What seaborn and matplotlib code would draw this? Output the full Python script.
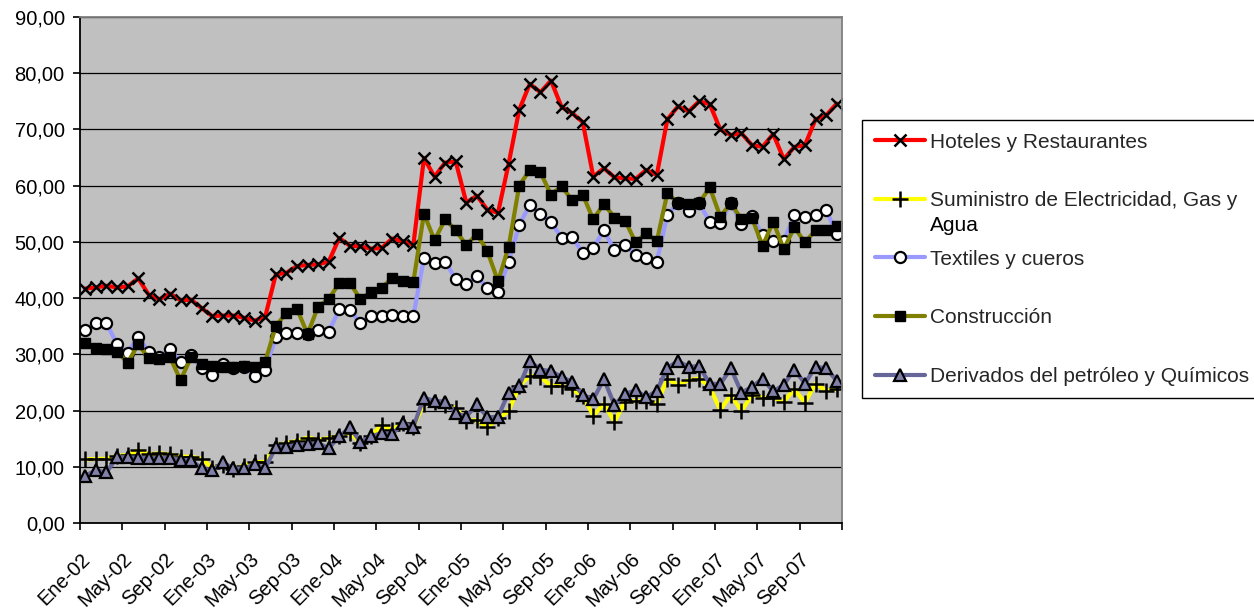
import numpy as np
import pandas as pd
import matplotlib
matplotlib.use("Agg")
import matplotlib.pyplot as plt
from matplotlib.transforms import IdentityTransform
import seaborn as sns

# Monthly categories Ene-02 ... Dic-07
meses = ["Ene", "Feb", "Mar", "Abr", "May", "Jun", "Jul", "Ago", "Sep", "Oct", "Nov", "Dic"]
anios = ["02", "03", "04", "05", "06", "07"]
categorias = [f"{m}-{a}" for a in anios for m in meses]

hoteles = [41.7, 41.9, 42.2, 41.9, 42.1, 43.5, 40.6, 39.8, 40.8, 39.6, 39.7, 38.2,
           36.8, 36.9, 36.9, 36.5, 36.0, 36.7, 44.2, 44.5, 45.7, 45.9, 46.0, 46.5,
           50.7, 49.3, 49.2, 48.8, 48.9, 50.6, 50.1, 49.5, 64.9, 61.6, 64.1, 64.3,
           57.0, 58.2, 55.7, 55.2, 63.9, 73.5, 78.1, 76.6, 78.7, 74.0, 72.9, 71.3,
           61.6, 63.1, 61.5, 61.3, 61.2, 62.8, 61.9, 71.8, 74.1, 73.2, 75.0, 74.5,
           70.0, 69.0, 69.3, 67.2, 66.9, 69.2, 64.7, 66.9, 67.2, 71.8, 72.5, 74.6]

suministro = [11.3, 11.4, 11.4, 11.9, 12.1, 12.9, 12.2, 12.4, 12.2, 11.8, 11.8, 11.4,
              9.8, 10.3, 9.6, 10.2, 10.8, 10.9, 13.8, 14.2, 14.6, 15.2, 14.8, 15.1,
              15.5, 16.0, 14.3, 15.5, 17.4, 16.6, 17.7, 17.1, 21.2, 21.6, 21.0, 20.5,
              18.2, 18.3, 17.0, 18.6, 19.9, 24.4, 26.2, 26.0, 24.4, 24.4, 23.8, 22.6,
              19.1, 21.2, 18.0, 21.6, 21.7, 21.7, 21.2, 25.6, 24.6, 25.4, 25.7, 24.2,
              20.1, 22.8, 19.9, 22.8, 22.3, 22.3, 21.6, 23.8, 21.4, 24.8, 23.5, 23.8]

textiles = [34.4, 35.5, 35.5, 31.8, 30.3, 33.1, 30.4, 29.5, 30.9, 28.6, 29.8, 27.5,
            26.4, 28.3, 27.6, 27.8, 26.2, 27.3, 33.0, 33.8, 33.8, 33.6, 34.4, 34.0,
            38.0, 37.9, 35.5, 36.9, 36.9, 37.0, 36.8, 36.8, 47.2, 46.3, 46.5, 43.4,
            42.5, 43.9, 41.8, 41.0, 46.5, 53.0, 56.6, 55.0, 53.6, 50.7, 50.8, 48.1,
            48.9, 52.1, 48.5, 49.5, 47.7, 47.1, 46.5, 54.8, 56.9, 55.5, 56.9, 53.6,
            53.4, 56.9, 53.2, 54.6, 51.2, 50.1, 50.1, 54.8, 54.5, 54.8, 55.7, 51.4]

construccion = [32.1, 31.1, 31.0, 30.5, 28.5, 31.8, 29.3, 29.1, 29.5, 25.4, 29.5, 28.3,
                27.9, 27.8, 27.8, 28.0, 27.7, 28.7, 35.0, 37.4, 38.1, 33.6, 38.5, 39.8,
                42.7, 42.7, 39.8, 41.1, 41.8, 43.6, 43.1, 42.9, 55.0, 50.3, 54.0, 52.1,
                49.4, 51.4, 48.3, 43.0, 49.1, 60.0, 62.8, 62.4, 58.4, 59.9, 57.4, 58.4,
                54.0, 56.8, 54.3, 53.8, 49.9, 51.6, 50.1, 58.7, 56.9, 56.8, 56.9, 59.7,
                54.5, 56.9, 54.0, 54.2, 49.3, 53.6, 48.7, 52.6, 49.9, 52.1, 52.2, 52.8]

derivados = [8.4, 9.4, 9.0, 11.7, 11.7, 11.6, 11.5, 11.6, 11.6, 11.2, 11.2, 9.7,
             9.4, 10.8, 9.7, 9.7, 10.5, 9.7, 13.5, 13.6, 13.9, 14.0, 14.2, 13.3,
             15.4, 17.0, 14.4, 15.4, 16.0, 15.8, 17.7, 17.1, 22.3, 21.7, 21.6, 19.6,
             18.9, 21.1, 18.8, 18.9, 23.2, 24.4, 28.8, 27.3, 27.0, 26.0, 25.1, 22.8,
             22.0, 25.6, 21.0, 23.0, 23.6, 22.4, 23.5, 27.6, 28.8, 27.8, 27.9, 24.8,
             24.7, 27.5, 23.2, 24.2, 25.7, 23.4, 24.6, 27.3, 24.8, 27.8, 27.5, 25.3]

# Textiles points drawn with a solid black marker
textiles_resaltados = [21, 56, 58, 61]

nombres = ["Hoteles y Restaurantes",
           "Suministro de Electricidad, Gas y Agua",
           "Textiles y cueros",
           "Construcción",
           "Derivados del petróleo y Químicos"]
# legend text; the second entry wraps after "Gas y"
etiquetas = ["Hoteles y Restaurantes",
             "Suministro de Electricidad, Gas y",
             "Textiles y cueros",
             "Construcción",
             "Derivados del petróleo y Químicos"]
continuacion = "Agua"
valores = [hoteles, suministro, textiles, construccion, derivados]

df = pd.concat([pd.DataFrame({"idx": np.arange(len(categorias)), "valor": v, "serie": n})
                for n, v in zip(nombres, valores)], ignore_index=True)

estilos = {
    nombres[0]: dict(color="#FF0000", marker="x", markersize=9, markeredgecolor="k",
                     markerfacecolor="k", markeredgewidth=1.8),
    nombres[1]: dict(color="#FFFF00", marker="+", markersize=11, markeredgecolor="k",
                     markerfacecolor="k", markeredgewidth=1.8),
    nombres[2]: dict(color="#9999FF", marker="o", markersize=8, markeredgecolor="k",
                     markerfacecolor="white", markeredgewidth=1.6),
    nombres[3]: dict(color="#808000", marker="s", markersize=7, markeredgecolor="k",
                     markerfacecolor="k", markeredgewidth=1.0),
    nombres[4]: dict(color="#666699", marker="^", markersize=8.5, markeredgecolor="k",
                     markerfacecolor="#8080A8", markeredgewidth=1.6),
}

sns.set_style("ticks")
plt.rcParams["font.family"] = ["Liberation Sans", "DejaVu Sans"]

fig = plt.figure(figsize=(12.54, 6.10), dpi=100)
ax = fig.add_axes([80 / 1254, 1 - 523 / 610, (842 - 80) / 1254, (523 - 17) / 610])
ax.set_facecolor("#C0C0C0")

handles = []
for n in nombres:
    antes = len(ax.get_lines())
    sns.lineplot(data=df[df["serie"] == n], x="idx", y="valor", ax=ax,
                 linewidth=3.0, legend=False, errorbar=None, **estilos[n])
    handles.append(ax.get_lines()[antes])

# solid black markers on highlighted textiles points
sub = df[(df["serie"] == nombres[2]) & (df["idx"].isin(textiles_resaltados))]
sns.scatterplot(data=sub, x="idx", y="valor", ax=ax, color="k", marker="o",
                s=70, edgecolor="k", linewidth=1.2, legend=False, zorder=5)

# axes
ax.set_xlim(-0.5, len(categorias) - 0.5)
ax.set_ylim(0, 90)
ax.set_yticks(np.arange(0, 91, 10))
ax.set_yticklabels([f"{v:.2f}".replace(".", ",") for v in np.arange(0, 91, 10)])
xt = np.arange(-0.5, len(categorias), 4)
ax.set_xticks(xt)
ax.set_xticklabels(categorias[0::4] + [""] * (len(xt) - len(categorias[0::4])),
                   rotation=45, ha="right", rotation_mode="anchor")
ax.tick_params(axis="both", labelsize=14.5, colors="k", direction="out", length=5, width=1.2)
ax.tick_params(axis="y", pad=6)
ax.tick_params(axis="x", pad=14)
ax.set_xlabel("")
ax.set_ylabel("")
ax.grid(axis="y", color="k", linewidth=0.9)
ax.grid(axis="x", visible=False)
ax.set_axisbelow(True)
for s in ["left", "bottom"]:
    ax.spines[s].set_color("k")
    ax.spines[s].set_linewidth(1.3)
for s in ["top", "right"]:
    ax.spines[s].set_visible(True)
    ax.spines[s].set_color("#808080")
    ax.spines[s].set_linewidth(1.3)

leg = ax.legend(handles, etiquetas, loc="upper left",
                bbox_to_anchor=(862 / 1254, 1 - 120 / 610), bbox_transform=fig.transFigure,
                frameon=True, fancybox=False, edgecolor="k", framealpha=1, facecolor="white",
                borderaxespad=0, handlelength=2.4, handletextpad=0.25, labelspacing=1.9,
                borderpad=0.6, fontsize=15)
leg.get_frame().set_linewidth(1.0)

# second line of the wrapped legend label, placed under its first line
fig.canvas.draw()
bb = leg.get_texts()[1].get_window_extent()
fig.text(bb.x0, bb.y0 - 25, continuacion, transform=IdentityTransform(),
         ha="left", va="bottom", fontsize=15, color="k", zorder=10)

fig.savefig("out.png", dpi=100)
